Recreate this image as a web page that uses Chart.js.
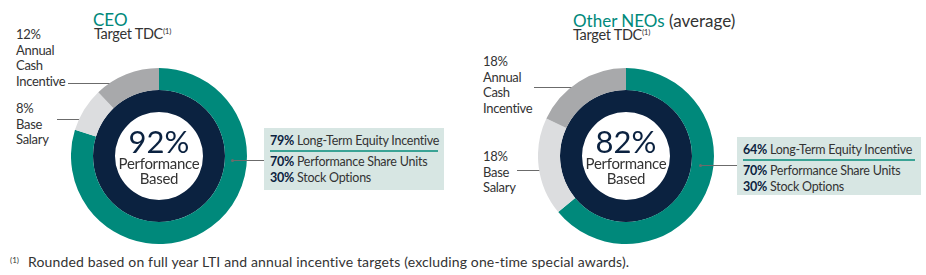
<!DOCTYPE html>
<html>
<head>
<meta charset="utf-8">
<script src="https://cdn.jsdelivr.net/npm/chart.js"></script>
<style>
  body { margin: 0; background: #fff; font-family: Lato, "Open Sans", sans-serif; color: #333; }
  #wrap { position: relative; width: 926px; height: 275px; overflow: hidden; }
  .abs { position: absolute; white-space: nowrap; }
  .donut { position: absolute; width: 176px; height: 176px; }
  .title { font-size: 17px; line-height: 17px; color: #00897b; }
  .title span { color: #333; }
  .sub { font-size: 14.5px; line-height: 15px; color: #333; letter-spacing: -0.3px; }
  sup { font-size: 8px; vertical-align: top; position: relative; top: -2px; }
  .lbl { font-size: 13px; line-height: 15.5px; color: #333; letter-spacing: -0.3px; }
  .lead { position: absolute; height: 1px; background: #6b6b6b; }
  .lead::after { content: ""; position: absolute; right: -1px; top: -1px; width: 3px; height: 3px; border-radius: 50%; background: #6b6b6b; }
  .lead.r::after { right: auto; left: -1px; }
  .center { position: absolute; width: 100px; text-align: center; color: #333; }
  .center .big { font-size: 31px; line-height: 30px; color: #0b2240; }
  .center .small { font-size: 15px; line-height: 15px; letter-spacing: -0.3px; }
  .box { position: absolute; background: #d7e6e3; font-size: 12.5px; line-height: 16px; padding: 0 6px; box-sizing: border-box; white-space: nowrap; letter-spacing: -0.25px; }
  .box b { color: #0b2240; font-weight: bold; }
  .box .top { border-bottom: 2px solid #3aa395; padding: 5px 0 1px 0; }
  .foot { font-size: 14px; letter-spacing: 0.15px; }
</style>
</head>
<body>
<div id="wrap">
  <!-- CEO -->
  <div class="abs title" style="left:93px;top:11px;">CEO</div>
  <div class="abs sub" style="left:94px;top:26px;">Target TDC<sup>(1)</sup></div>
  <div class="abs lbl" style="left:16px;top:27px;">12%<br>Annual<br>Cash<br>Incentive</div>
  <div class="lead" style="left:68px;top:83px;width:62px;"></div>
  <div class="abs lbl" style="left:16px;top:101px;">8%<br>Base<br>Salary</div>
  <div class="lead" style="left:57px;top:119px;width:39px;"></div>
  <div class="donut" style="left:71px;top:68px;"><canvas id="ceoChart"></canvas></div>
  <div class="center" style="left:109px;top:126px;">
    <div class="big">92%</div>
    <div class="small">Performance</div>
    <div class="small">Based</div>
  </div>
  <div class="lead r" style="left:232px;top:160px;width:32px;"></div>
  <div class="box" style="left:264px;top:128px;width:180px;height:62px;">
    <div class="top"><b>79%</b> Long-Term Equity Incentive</div>
    <div style="padding-top:2px;"><b>70%</b> Performance Share Units</div>
    <div><b>30%</b> Stock Options</div>
  </div>

  <!-- Other NEOs -->
  <div class="abs title" style="left:573px;top:12px;">Other NEOs <span>(average)</span></div>
  <div class="abs sub" style="left:573px;top:27px;">Target TDC<sup>(1)</sup></div>
  <div class="abs lbl" style="left:483px;top:54px;">18%<br>Annual<br>Cash<br>Incentive</div>
  <div class="lead" style="left:534px;top:87px;width:55px;"></div>
  <div class="abs lbl" style="left:483px;top:149px;">18%<br>Base<br>Salary</div>
  <div class="lead" style="left:517px;top:170px;width:31px;"></div>
  <div class="donut" style="left:538px;top:68px;"><canvas id="neoChart"></canvas></div>
  <div class="center" style="left:576px;top:126px;">
    <div class="big">82%</div>
    <div class="small">Performance</div>
    <div class="small">Based</div>
  </div>
  <div class="lead r" style="left:700px;top:165px;width:37px;"></div>
  <div class="box" style="left:737px;top:137px;width:184px;height:58px;">
    <div class="top"><b>64%</b> Long-Term Equity Incentive</div>
    <div style="padding-top:2px;"><b>70%</b> Performance Share Units</div>
    <div><b>30%</b> Stock Options</div>
  </div>

  <div class="abs" style="left:10px;top:255px;font-size:8px;">(1)</div>
  <div class="abs foot" style="left:28px;top:253px;">Rounded based on full year LTI and annual incentive targets (excluding one-time special awards).</div>
</div>

<script>
var segments = ["Long-Term Equity Incentive", "Base Salary", "Annual Cash Incentive"];
var ceoMix = [79, 8, 12];
var neoMix = [64, 18, 18];
var performanceRing = [100];
var segColors = ["#00897b", "#dcdddf", "#a8a9ab"];

function makeDonut(id, values) {
    var ctx = document.getElementById(id);
    return new Chart(ctx, {
        type: 'doughnut',
        data: {
            labels: segments,
            datasets: [
                {
                    data: values,
                    backgroundColor: segColors,
                    borderWidth: 0
                },
                {
                    data: performanceRing,
                    backgroundColor: ["#0b2240"],
                    borderWidth: 0
                }
            ]
        },
        options: {
            responsive: true,
            maintainAspectRatio: false,
            animation: false,
            cutout: '50%',
            layout: { padding: 0 },
            plugins: {
                legend: { display: false },
                tooltip: { enabled: false }
            }
        }
    });
}

makeDonut("ceoChart", ceoMix);
makeDonut("neoChart", neoMix);
</script>
</body>
</html>
